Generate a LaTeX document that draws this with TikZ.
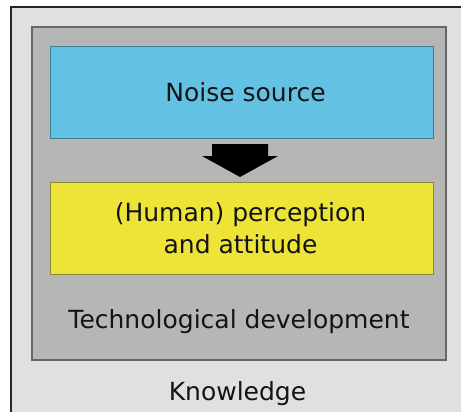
\documentclass[tikz,border=0pt]{standalone}
\usepackage{fontspec}
\setmainfont{DejaVu Sans}
\usetikzlibrary{calc}
\definecolor{knowbg}{HTML}{E0E0E0}
\definecolor{techbg}{HTML}{B6B6B6}
\definecolor{techln}{HTML}{666666}
\definecolor{noisebg}{HTML}{63C1E3}
\definecolor{noiseln}{HTML}{3F7F95}
\definecolor{percbg}{HTML}{EEE437}
\definecolor{percln}{HTML}{8C8638}
\tikzset{
  panel/.style={rectangle, inner sep=0pt, outer sep=0pt, anchor=north west},
  lbl/.style={font=\fontsize{25}{32}\selectfont, text=black!92, align=center, inner sep=0pt},
}
\begin{document}
\begin{tikzpicture}[x=1pt,y=-1pt]
\useasboundingbox (0,0) rectangle (461,412);
\fill[white] (0,0) rectangle (461,412);
\begin{scope}
\clip (0,0) rectangle (461,412);
\node[panel, fill=knowbg, draw=black!85, line width=1.2pt, minimum width=470pt, minimum height=420pt] (know) at (11,7) {};
\end{scope}
\node[panel, fill=techbg, draw=techln, line width=1.8pt, minimum width=414pt, minimum height=333pt] (tech) at (32,27) {};
\node[panel, fill=noisebg, draw=noiseln, line width=0.8pt, minimum width=383pt, minimum height=92pt] (noise) at (50,46) {};
\node[panel, fill=percbg, draw=percln, line width=0.8pt, minimum width=383pt, minimum height=92pt] (perc) at (50,182) {};
\node[lbl, anchor=base] (noiset) at (245.5,102) {Noise source};
\node[lbl] (perct) at ($(perc.center)+(-1,0)$) {(Human) perception\\and attitude};
\node[lbl, anchor=base] (techt) at (239,328) {Technological development};
\node[lbl, anchor=base] (knowt) at (237.5,400) {Knowledge};
\coordinate (atop) at ($(noise.south)+(-1.5,6)$);
\coordinate (atip) at ($(perc.north)+(-1.5,-5)$);
\fill[black] ($(atop)+(-28,0)$) -- ($(atop)+(28,0)$) -- ($(atop)+(28,12)$) -- ($(atop)+(38,12)$)
  -- (atip) -- ($(atop)+(-38,12)$) -- ($(atop)+(-28,12)$) -- cycle;
\end{tikzpicture}
\end{document}
